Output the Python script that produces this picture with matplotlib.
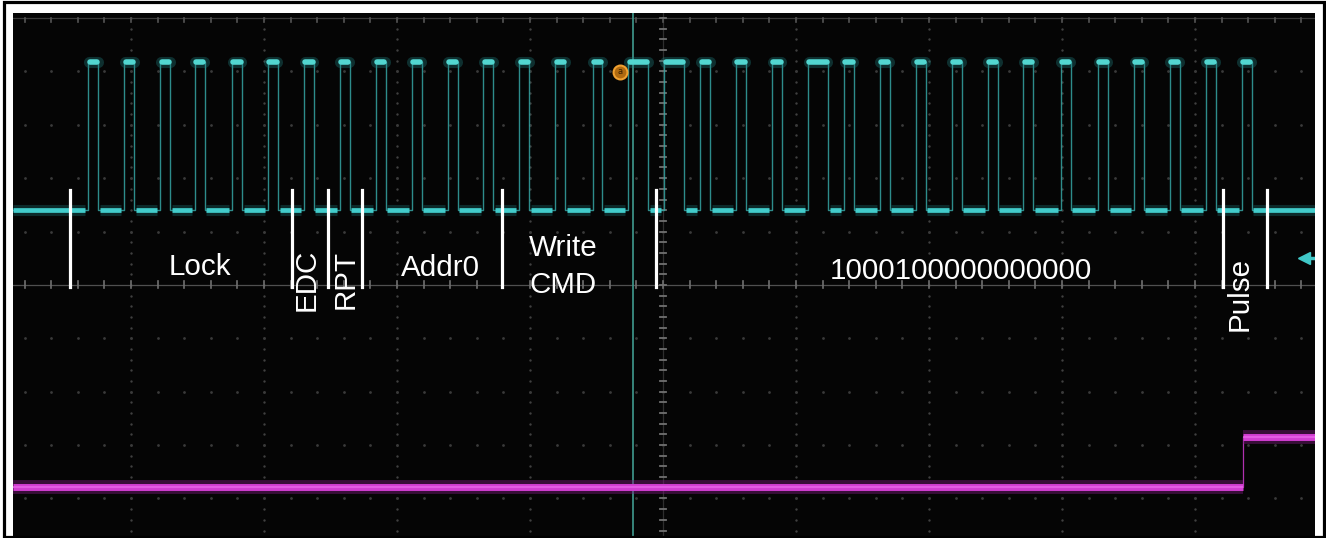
import matplotlib.pyplot as plt
from matplotlib.patches import Rectangle
import numpy as np

# frame fields sent on the data line and their bit values
field_names = ["Lock", "EDC", "RPT", "Addr0", "Write\nCMD", "1000100000000000", "Pulse"]
field_bits = ["000000", "0", "0", "0000", "0001", "1000100000000000", "0"]

# rising edge of every bit pulse (divisions from screen centre)
rise_t = [-4.32, -4.05, -3.78, -3.52, -3.24, -2.97,
          -2.70,
          -2.43,
          -2.16, -1.89, -1.62, -1.35,
          -1.08, -0.81, -0.53, -0.26,
          0.01, 0.28, 0.55, 0.82, 1.09, 1.36, 1.63, 1.90,
          2.17, 2.44, 2.71, 2.99, 3.27, 3.54, 3.81, 4.08,
          4.35]

# channel levels (divisions)
sig_lo, sig_hi = 1.40, 4.18
en_lo, en_hi = -3.78, -2.84
en_step_t = 4.36

# field boundaries drawn as white markers
section_edges = [-4.46, -2.79, -2.52, -2.26, -1.21, -0.05, 4.21, 4.54]
cursor_t = -0.226

# pulse widths for a 0 and a 1 bit
w0, w1 = 0.075, 0.15

xmin, xmax = -4.887, 4.902
ymin, ymax = -4.74, 5.094

fig = plt.figure(figsize=(13.26, 5.38), dpi=100, facecolor='white')
ax = fig.add_axes([13 / 1326, 0, 1302 / 1326, 525 / 538])
ax.set_facecolor('#050505')
ax.set_xlim(xmin, xmax)
ax.set_ylim(ymin, ymax)
ax.set_xticks([])
ax.set_yticks([])
for sp in ax.spines.values():
    sp.set_visible(False)

# graticule: dotted majors, solid centre axes with ticks
minor_y = np.arange(-4.8, 5.01, 0.2)
minor_x = np.arange(-4.8, 4.81, 0.2)
for gx in range(-4, 5):
    if gx == 0:
        continue
    ax.scatter(np.full_like(minor_y, gx), minor_y, s=3, color='#404040', lw=0, zorder=1)
for gy in range(-4, 5):
    if gy == 0:
        continue
    ax.scatter(minor_x, np.full_like(minor_x, gy), s=4, color='#3a3a3a', lw=0, zorder=1)
ax.axhline(0, color='#505050', lw=0.9, zorder=1)
ax.axhline(5, color='#3a3a3a', lw=0.9, zorder=1)
ax.axvline(0, color='#2e2e2e', lw=0.9, zorder=1)
for tx in minor_x:
    ax.plot([tx, tx], [-0.065, 0.065], color='#707070', lw=1.2, zorder=1)
    ax.plot([tx, tx], [4.93, 5.0], color='#555555', lw=1.2, zorder=1)
for ty in minor_y:
    ax.plot([-0.026, 0.026], [ty, ty], color='#707070', lw=1.3, zorder=1)

# cursor
ax.axvline(cursor_t, color='#3f9a8e', lw=1.2, zorder=2)

# data line waveform
bit_seq = "".join(field_bits)
xs, ys = [xmin], [sig_lo]
falls = []
for t, b in zip(rise_t, bit_seq):
    w = w1 if b == '1' else w0
    xs += [t, t, t + w, t + w]
    ys += [sig_lo, sig_hi, sig_hi, sig_lo]
    falls.append(t + w)
xs.append(xmax)
ys.append(sig_lo)
ax.plot(xs, ys, color='#35a5a3', lw=1.0, alpha=0.85, zorder=3)

# bright low segments between pulses
starts = [xmin] + [f + 0.012 for f in falls]
ends = [r - 0.022 for r in rise_t] + [xmax]
for s, e in zip(starts, ends):
    ax.plot([s, e], [sig_lo, sig_lo], color='#1f8080', lw=8, alpha=0.3,
            solid_capstyle='butt', zorder=3)
    ax.plot([s, e], [sig_lo, sig_lo], color='#42cccb', lw=3.4,
            solid_capstyle='butt', zorder=4)
# bright pulse tops
for t, f in zip(rise_t, falls):
    ax.plot([t + 0.005, f - 0.005], [sig_hi, sig_hi], color='#1f8080', lw=8,
            alpha=0.35, solid_capstyle='round', zorder=3)
    ax.plot([t + 0.01, f - 0.01], [sig_hi, sig_hi], color='#52d6d0', lw=4,
            solid_capstyle='round', zorder=4)

# enable line: thick levels, thin edge
en_x = [xmin, en_step_t, en_step_t, xmax]
en_y = [en_lo, en_lo, en_hi, en_hi]
ax.plot(en_x, en_y, color='#b030b0', lw=0.9, zorder=3)
for seg_x, seg_y in [([xmin, en_step_t], [en_lo, en_lo]), ([en_step_t, xmax], [en_hi, en_hi])]:
    ax.plot(seg_x, seg_y, color='#7a1a7a', lw=10, alpha=0.45, solid_capstyle='butt', zorder=3)
    ax.plot(seg_x, seg_y, color='#d23ed2', lw=5, solid_capstyle='butt', zorder=4)
    ax.plot(seg_x, seg_y, color='#f070f0', lw=1.5, alpha=0.6, solid_capstyle='butt', zorder=4)

# trigger marker and channel offset arrow
ax.plot([-0.323], [3.99], marker='o', ms=10, mfc='#b06a10', mec='#f0a030',
        mew=1.5, zorder=5)
ax.text(-0.323, 3.99, 'a', color='#3a2000', fontsize=6, ha='center',
        va='center', zorder=6)
ax.plot([4.82], [0.506], marker='<', ms=8, color='#40c8c8', zorder=5)
ax.plot([4.84, xmax], [0.506, 0.506], color='#40c8c8', lw=2.5, zorder=5)

# field boundary markers and labels
for sx in section_edges:
    ax.plot([sx, sx], [-0.04, 1.78], color='white', lw=2.3, zorder=6)

font = ['Liberation Sans', 'DejaVu Sans']
fs = 21.3
label_pos = [(-3.481, 0.337, 0), (-2.677, 0.094, 90), (-2.383, 0.094, 90),
             (-1.677, 0.318, 0), (-0.752, 0.346, 0), (2.241, 0.262, 0),
             (4.338, -0.169, 90)]
for name, (lx, ly, rot) in zip(field_names, label_pos):
    ax.text(lx, ly, name, color='white', fontsize=fs, family=font,
            rotation=rot, ha='center', va='center', linespacing=1.45, zorder=7)

# outer frame
fig.patches.append(Rectangle((3.5 / 1326, 1.5 / 538), 1320 / 1326, 534.5 / 538,
                             transform=fig.transFigure, fill=False,
                             edgecolor='black', lw=2.3, zorder=10))

fig.savefig('out.png', dpi=100, facecolor='white')
